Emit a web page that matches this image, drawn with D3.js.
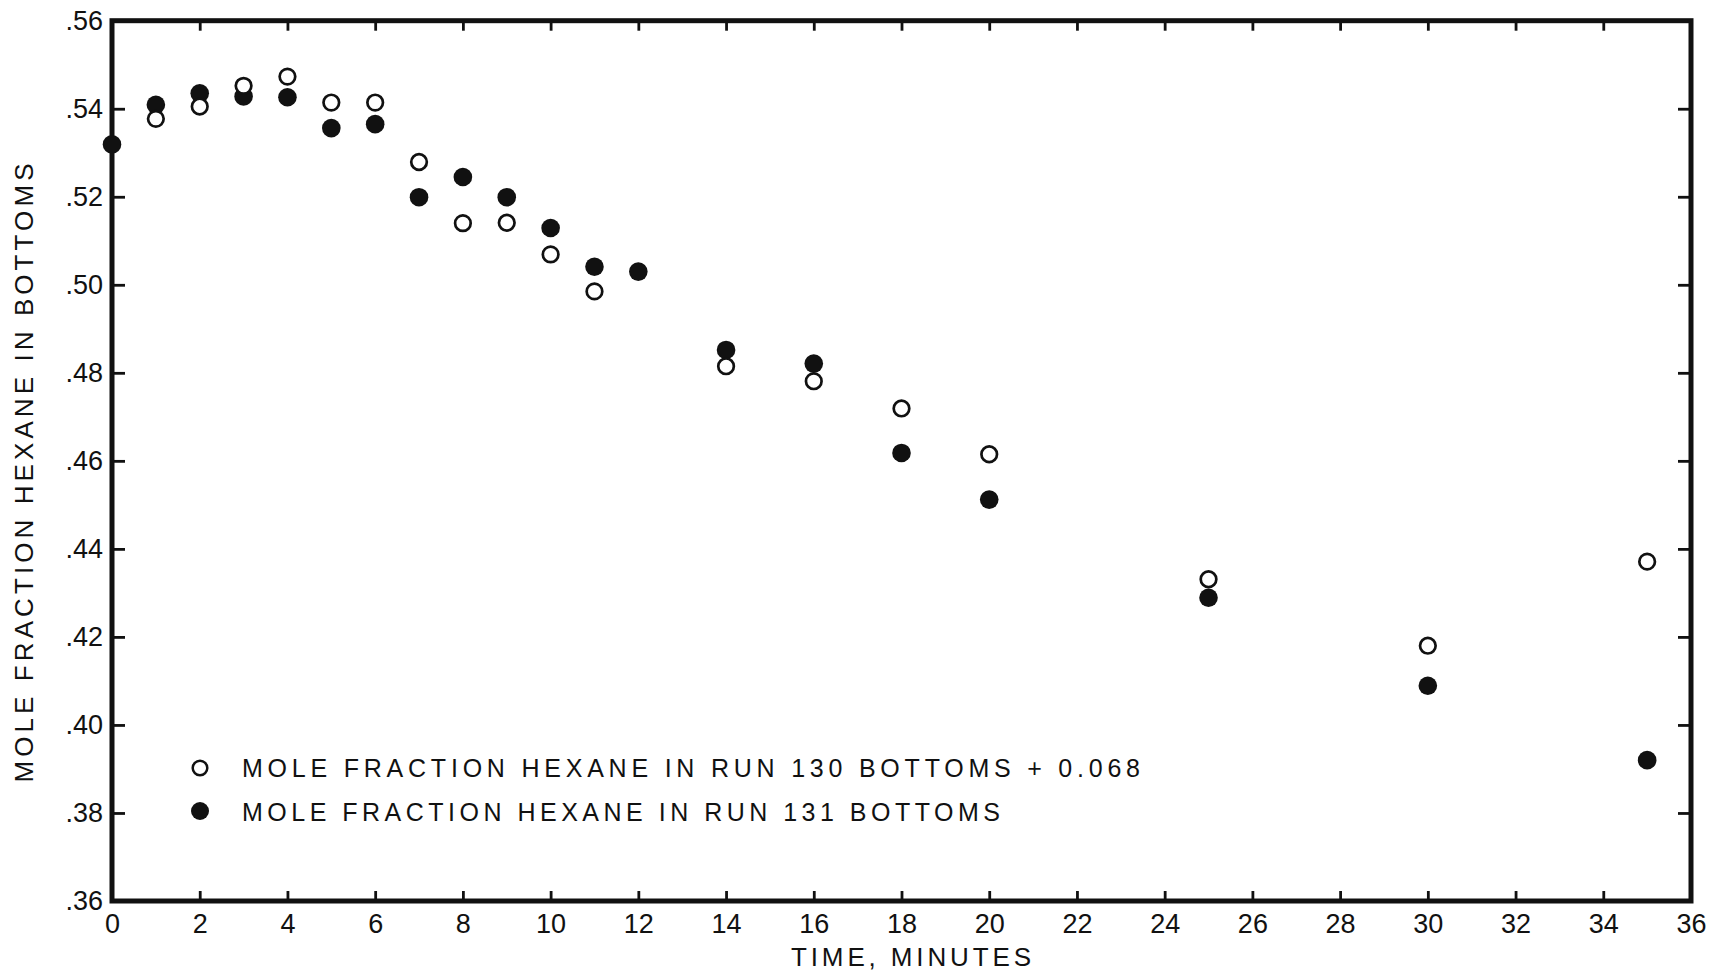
<!DOCTYPE html>
<html>
<head>
<meta charset="utf-8">
<script src="https://cdn.jsdelivr.net/npm/d3@7"></script>
<style>
  html, body { margin: 0; padding: 0; background: #fff; }
  svg { display: block; }
  text { font-family: "Liberation Sans", Arial, sans-serif; fill: #111; }
</style>
</head>
<body>
<svg id="chart" width="1709" height="974"></svg>
<script>
// Time axis (minutes) and mole fraction axis ticks
const xTicks = [0, 2, 4, 6, 8, 10, 12, 14, 16, 18, 20, 22, 24, 26, 28, 30, 32, 34, 36];
const yTicks = [0.36, 0.38, 0.40, 0.42, 0.44, 0.46, 0.48, 0.50, 0.52, 0.54, 0.56];
const yTickLabels = [".36", ".38", ".40", ".42", ".44", ".46", ".48", ".50", ".52", ".54", ".56"];

// Run 130 bottoms, shifted by +0.068 (open circles)
const run130Times = [1, 2, 3, 4, 5, 6, 7, 8, 9, 10, 11, 14, 16, 18, 20, 25, 30, 35];
const run130Values = [0.5377, 0.5405, 0.5452, 0.5473, 0.5414, 0.5414, 0.5279, 0.5140, 0.5141,
  0.5069, 0.4985, 0.4815, 0.4781, 0.4719, 0.4615, 0.4331, 0.4180, 0.4371];

// Run 131 bottoms (filled circles)
const run131Times = [0, 1, 2, 3, 4, 5, 6, 7, 8, 9, 10, 11, 12, 14, 16, 18, 20, 25, 30, 35];
const run131Values = [0.5319, 0.5409, 0.5435, 0.5428, 0.5426, 0.5356, 0.5365, 0.5199, 0.5245,
  0.5199, 0.5129, 0.5041, 0.5030, 0.4852, 0.4821, 0.4618, 0.4512, 0.4289, 0.4089, 0.3920];

const legendLabels = [
  "MOLE FRACTION HEXANE IN RUN 130 BOTTOMS + 0.068",
  "MOLE FRACTION HEXANE IN RUN 131 BOTTOMS"
];
const xTitle = "TIME, MINUTES";
const yTitle = "MOLE FRACTION HEXANE IN BOTTOMS";

const svg = d3.select("#chart");
const plot = { left: 112, right: 1691, top: 20.7, bottom: 901 };

const x = d3.scaleLinear().domain([0, 36]).range([plot.left, plot.right]);
const y = d3.scaleLinear().domain([0.36, 0.56]).range([plot.bottom, plot.top]);
const yLabel = new Map(yTicks.map((v, i) => [v.toFixed(2), yTickLabels[i]]));

function styleAxis(g) {
  g.select(".domain").remove();
  g.selectAll(".tick line").attr("stroke", "#111").attr("stroke-width", 2.8);
  g.selectAll(".tick text").style("font-size", "27px").attr("fill", "#111");
}

// Bottom axis with labels, ticks pointing inward
svg.append("g")
  .attr("transform", `translate(0,${plot.bottom})`)
  .call(d3.axisBottom(x).tickValues(xTicks).tickFormat(d3.format("d"))
    .tickSizeInner(-10).tickSizeOuter(0).tickPadding(13))
  .call(styleAxis);

// Top axis: ticks only
svg.append("g")
  .attr("transform", `translate(0,${plot.top})`)
  .call(d3.axisTop(x).tickValues(xTicks).tickFormat("")
    .tickSizeInner(-10).tickSizeOuter(0))
  .call(styleAxis);

// Left axis with labels
svg.append("g")
  .attr("transform", `translate(${plot.left},0)`)
  .call(d3.axisLeft(y).tickValues(yTicks).tickFormat(d => yLabel.get(d.toFixed(2)))
    .tickSizeInner(-13).tickSizeOuter(0).tickPadding(9))
  .call(styleAxis);

// Right axis: ticks only
svg.append("g")
  .attr("transform", `translate(${plot.right},0)`)
  .call(d3.axisRight(y).tickValues(yTicks).tickFormat("")
    .tickSizeInner(-13).tickSizeOuter(0))
  .call(styleAxis);

// Plot frame
svg.append("rect")
  .attr("x", plot.left).attr("y", plot.top)
  .attr("width", plot.right - plot.left).attr("height", plot.bottom - plot.top)
  .attr("fill", "none").attr("stroke", "#111").attr("stroke-width", 5);

// Axis titles
svg.append("text")
  .attr("x", 911).attr("y", 966)
  .attr("text-anchor", "middle")
  .attr("textLength", 240).attr("lengthAdjust", "spacing")
  .style("font-size", "26px")
  .text(xTitle);

svg.append("text")
  .attr("transform", "translate(33,473) rotate(-90)")
  .attr("text-anchor", "middle")
  .attr("textLength", 619).attr("lengthAdjust", "spacing")
  .style("font-size", "26px")
  .text(yTitle);

// Data points
const run130 = run130Times.map((t, i) => ({ t, v: run130Values[i] }));
const run131 = run131Times.map((t, i) => ({ t, v: run131Values[i] }));

svg.append("g").selectAll("circle").data(run131).join("circle")
  .attr("cx", d => x(d.t)).attr("cy", d => y(d.v))
  .attr("r", 9.3).attr("fill", "#111");

svg.append("g").selectAll("circle").data(run130).join("circle")
  .attr("cx", d => x(d.t)).attr("cy", d => y(d.v))
  .attr("r", 7.8).attr("fill", "#fff").attr("stroke", "#111").attr("stroke-width", 2.7);

// Legend
const legend = svg.append("g");
legend.append("circle").attr("cx", 200).attr("cy", 768).attr("r", 7.3)
  .attr("fill", "#fff").attr("stroke", "#111").attr("stroke-width", 2.5);
legend.append("circle").attr("cx", 200).attr("cy", 811).attr("r", 9).attr("fill", "#111");
legend.append("text").attr("x", 242).attr("y", 777)
  .attr("textLength", 898).attr("lengthAdjust", "spacing")
  .style("font-size", "25px").text(legendLabels[0]);
legend.append("text").attr("x", 242).attr("y", 821)
  .attr("textLength", 758).attr("lengthAdjust", "spacing")
  .style("font-size", "25px").text(legendLabels[1]);
</script>
</body>
</html>
